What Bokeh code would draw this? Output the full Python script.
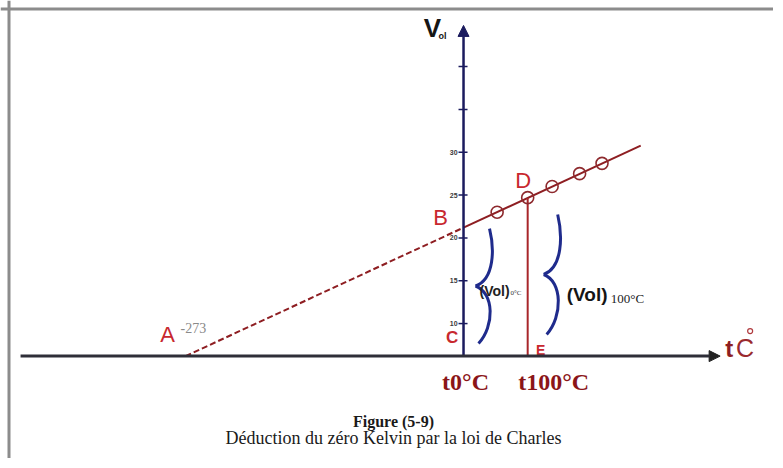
from bokeh.plotting import figure
from bokeh.models import Range1d, Arrow, NormalHead, Span
from bokeh.core.properties import value
from bokeh.embed import file_html
from bokeh.resources import INLINE

# ---------------- data (schematic Charles's-law diagram) ----------------
t_kelvin_zero = -273      # point A (extrapolated zero volume)
t_C = 0                   # point C : 0 degC
t_E = 63                  # point E : schematic position of 100 degC
v_baseline = 6.2          # volume level where the temperature axis is drawn
v_B = 21.2                # volume at 0 degC (point B)
t_line_end = 174          # end of the solid measured line
t_points = [33, 63, 87, 114, 136]          # measured temperatures (schematic)
v_points = [23.0, 24.7, 26.0, 27.5, 28.7]  # measured volumes
v_ticks = [10, 15, 20, 25, 30, 35, 40]
v_tick_labels = ["10", "15", "20", "25", "30", "", ""]
t_axis_start = -435
t_axis_end = 252
v_axis_top = 44.8
caption_title = "Figure (5-9)"
caption_text = "Déduction du zéro Kelvin par la loi de Charles"

# ---------------- figure ----------------
W, H = 773, 458
X0, X1 = -454.7, 304.4
Y0, Y1 = -5.75, 47.71
KX = W / (X1 - X0)
KY = H / (Y1 - Y0)

def dx(px):
    return px / KX

def dy(px):          # px measured downward on screen
    return -px / KY

p = figure(width=W, height=H, x_range=Range1d(X0, X1), y_range=Range1d(Y0, Y1),
           output_backend="svg", toolbar_location=None,
           x_axis_location=None, y_axis_location=None, min_border=0)
p.outline_line_color = None
p.background_fill_color = "white"
p.border_fill_color = "white"
p.xgrid.visible = False
p.ygrid.visible = False

# frame border (left, top)
border = "#8c8c8c"
p.add_layout(Span(location=X0 + dx(8.5), dimension="height", line_color=border, line_width=3))
p.add_layout(Span(location=Y1 + dy(8.5), dimension="width", line_color=border, line_width=3))

slope = (v_B - v_baseline) / (t_C - t_kelvin_zero)
def v_at(t):
    return v_B + slope * (t - t_C)

v_D = v_at(t_E)
v_end = v_at(t_line_end)

line_red = "#8e1e22"
label_red = "#c8282e"
navy = "#1b1b5e"
brace_blue = "#1f2b8c"

# extrapolated (dashed) and measured (solid) lines
p.line([t_kelvin_zero, t_C], [v_baseline, v_B], line_color=line_red, line_width=2,
       line_dash="6 3")
p.line([t_C, t_line_end], [v_B, v_end], line_color=line_red, line_width=2)
# vertical D-E
p.line([t_E, t_E], [v_baseline, v_D], line_color="#a8262a", line_width=2)

# measured points
p.scatter(t_points, v_points, marker="circle", size=12, fill_color=None,
          line_color="#8e2a2e", line_width=1.6)

# y axis ticks
n = len(v_ticks)
p.segment(x0=[t_C - dx(5)] * n, y0=v_ticks, x1=[t_C + dx(4)] * n, y1=v_ticks,
          line_color=navy, line_width=1.5)
p.text(x=[t_C - dx(6)] * n, y=v_ticks, text=v_tick_labels,
       text_font=value("Liberation Sans"), text_font_size=value("7px"),
       text_font_style=value("bold"), text_color="#3a3a3a",
       text_align=value("right"), text_baseline=value("middle"))

# axes with arrows
p.add_layout(Arrow(end=NormalHead(size=11, fill_color=navy, line_color=navy),
                   x_start=t_C, y_start=v_baseline, x_end=t_C, y_end=v_axis_top,
                   line_color=navy, line_width=2.5))
p.add_layout(Arrow(end=NormalHead(size=11, fill_color="#222", line_color="#222"),
                   x_start=t_axis_start, y_start=v_baseline, x_end=t_axis_end, y_end=v_baseline,
                   line_color="#2e2e38", line_width=3))

# braces
def brace(ax, ay, cusp_dx, top_dy, bot_dy):
    xc = ax + dx(cusp_dx)
    xb = ax + dx(cusp_dx + 19)
    xt = ax + dx(cusp_dx + 14)
    xbot = ax + dx(cusp_dx + 3)
    mid_dy = (top_dy + bot_dy) / 2
    half = (bot_dy - top_dy) / 2
    yt = ay + dy(top_dy)
    ym = ay + dy(mid_dy)
    yb = ay + dy(bot_dy)
    p.bezier(x0=[xt, xc], y0=[yt, ym], x1=[xc, xbot], y1=[ym, yb],
             cx0=[xb, xb], cy0=[ay + dy(top_dy + 0.35 * half), ay + dy(mid_dy + 7)],
             cx1=[xb, xb], cy1=[ay + dy(mid_dy - 7), ay + dy(bot_dy - 0.3 * half)],
             line_color=brace_blue, line_width=3)

brace(t_C, v_baseline, 12, -127.6, -12.6)
brace(t_E, v_baseline, 16, -141.6, -21.6)

# text helper
def label(ax, ay, ox, oy, txt, size, color, font="Liberation Sans", style="normal",
          align="center", baseline="middle"):
    p.text(x=[ax + dx(ox)], y=[ay + dy(oy)], text=[txt],
           text_font=value(font), text_font_size=value(f"{size}px"),
           text_font_style=value(style), text_color=color,
           text_align=value(align), text_baseline=value(baseline))

label(t_kelvin_zero, v_baseline, -18, -21.6, "A", 22, label_red)
label(t_kelvin_zero, v_baseline, -5, -28.5, str(t_kelvin_zero), 14, "#8a8a8a",
      font="Liberation Serif", align="left")
label(t_C, v_B, -23, -10.5, "B", 22, label_red)
label(t_E, v_D, -4.5, -17.5, "D", 22, label_red)
label(t_C, v_baseline, -11.5, -18.6, "C", 17, label_red, style="bold")
label(t_E, v_baseline, 13, -6.6, "E", 14, label_red, style="bold")
label(t_C, v_baseline, 2, 25.4, "t0°C", 24, "#8b1518", font="Liberation Serif", style="bold")
label(t_E, v_baseline, 26, 25.4, "t100°C", 24, "#8b1518", font="Liberation Serif", style="bold")
label(t_axis_end, v_baseline, 9, -8, "t", 24, "#8e1e22", style="bold")
label(t_axis_end, v_baseline, 25, -8, "C", 25, "#9a2a2e")
p.scatter([t_axis_end + dx(30)], [v_baseline + dy(-25)], marker="circle", size=5,
          fill_color=None, line_color="#b03a3e", line_width=1.2)
label(t_C, v_axis_top, -31, 3, "V", 26, "#151515", style="bold")
label(t_C, v_axis_top, -21, 11, "ol", 9, "#151515", style="bold")
label(t_C, v_baseline, 31, -65.6, "(Vol)", 14, "#222222", style="bold")
label(t_C, v_baseline, 47, -63.6, "0°C", 7, "#333333", font="Liberation Serif", align="left")
label(t_E, v_baseline, 59.5, -61.6, "(Vol)", 19, "#151515", style="bold")
label(t_E, v_baseline, 83, -57.6, "100°C", 13, "#222222", font="Liberation Serif", align="left")

# caption
cx = X0 + dx(393)
p.text(x=[cx], y=[Y1 + dy(421)], text=[caption_title],
       text_font=value("Liberation Serif"), text_font_size=value("16px"),
       text_font_style=value("bold"), text_color="#1a1a1a",
       text_align=value("center"), text_baseline=value("middle"))
p.text(x=[cx], y=[Y1 + dy(437)], text=[caption_text],
       text_font=value("Liberation Serif"), text_font_size=value("18px"),
       text_color="#1a1a1a", text_align=value("center"), text_baseline=value("middle"))

open("out.html", "w").write(file_html(p, INLINE))
